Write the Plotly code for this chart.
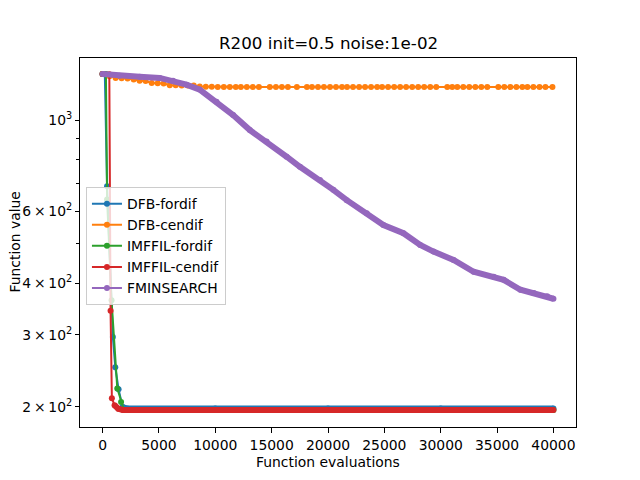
import plotly.graph_objects as go

# values
title = "R200 init=0.5 noise:1e-02"
x_label = "Function evaluations"
y_label = "Function value"

blue_x = [1, 201, 402, 916, 1129, 1422, 1778, 2200, 10000, 20000, 30000, 40000]
blue_y = [1295, 1294, 690, 296, 250, 221, 200, 198.3, 198.3, 198.3, 198.3, 198.3]

orange_x = [1, 620, 1160, 1690, 2220, 2760, 3290, 3820, 4360, 4890,
            5420, 5960, 6490, 7020, 7560, 8090, 8620, 9160, 9690, 10220,
            10760, 11290, 11820, 12270, 12800, 13330, 13870, 14840, 15380, 15910,
            16440, 17240, 18130, 18580, 19110, 19640, 20180, 20710, 21240, 21690,
            22220, 22760, 23290, 23820, 24360, 24800, 25330, 25870, 26400, 26930,
            27470, 28000, 28530, 29070, 29600, 30580, 31020, 31470, 32000, 32530,
            33070, 33600, 34130, 35110, 35640, 36180, 36710, 37240, 37690, 38220,
            38760, 39290, 39910]
orange_y = [1295, 1278, 1266, 1263, 1262, 1255, 1246, 1244, 1230, 1229,
            1228, 1216, 1215, 1214, 1214, 1213, 1206, 1205, 1205, 1204,
            1203, 1203, 1203, 1203, 1203, 1203, 1203, 1203, 1203, 1203,
            1203, 1203, 1203, 1203, 1203, 1203, 1203, 1203, 1203, 1203,
            1203, 1203, 1203, 1203, 1203, 1203, 1203, 1203, 1203, 1203,
            1203, 1203, 1203, 1203, 1203, 1203, 1203, 1203, 1203, 1203,
            1203, 1203, 1203, 1203, 1203, 1203, 1203, 1203, 1203, 1203,
            1203, 1203, 1203]

green_x = [1, 301, 402, 800, 1307, 1644, 1900, 10000, 20000, 30000, 40000]
green_y = [1295, 1294, 640, 364, 222, 205.7, 196.7, 196.7, 196.7, 196.7, 196.7]

red_x = [1, 601, 711, 827, 1067, 1400, 1800, 10000, 20000, 30000, 40000]
red_y = [1295, 1293, 343, 210, 202, 198, 196.7, 196.7, 196.7, 196.7, 196.7]

purple_x = [1, 1511, 3289, 5067, 6249, 7440, 8622, 10107, 11582, 13067,
            14551, 16329, 17511, 19289, 20471, 21662, 23440, 24916, 26693, 28178,
            29360, 31138, 32916, 34693, 35582, 37067, 38249, 39440, 40000]
purple_y = [1295, 1282, 1275, 1266, 1247, 1219, 1186, 1108, 1028, 945,
            886, 814, 769, 714, 676, 638, 593, 555, 530, 496,
            478, 456, 427, 415, 408, 386, 379, 372, 367]

y_tick_vals = [200, 300, 400, 600, 1000]
y_tick_text = ["2\u2009×\u200910<sup>2</sup>", "3\u2009×\u200910<sup>2</sup>",
               "4\u2009×\u200910<sup>2</sup>", "6\u2009×\u200910<sup>2</sup>",
               "10<sup>3</sup>"]
y_minor_vals = [500, 700, 800, 900]

# name, x, y, colour, index where the dense plateau starts (drawn thick)
series = [
    ("DFB-fordif", blue_x, blue_y, "#1f77b4", 6),
    ("DFB-cendif", orange_x, orange_y, "#ff7f0e", None),
    ("IMFFIL-fordif", green_x, green_y, "#2ca02c", 6),
    ("IMFFIL-cendif", red_x, red_y, "#d62728", 4),
    ("FMINSEARCH", purple_x, purple_y, "#9467bd", 0),
]

fig = go.Figure()
for name, xs, ys, col, k in series:
    fig.add_trace(go.Scatter(x=xs, y=ys, name=name, legendgroup=name,
                             mode="lines+markers",
                             line=dict(color=col, width=2),
                             marker=dict(color=col, size=6)))
    if k is not None:
        # markers are so dense here that they merge into a thick band
        fig.add_trace(go.Scatter(x=xs[k:], y=ys[k:], legendgroup=name,
                                 showlegend=False, mode="lines",
                                 line=dict(color=col, width=6)))

fnt = dict(family="DejaVu Sans", size=13.9, color="black")

# the page body adds 8px around the figure, so the figure is 8px smaller
fig.update_layout(
    width=632, height=472,
    margin=dict(l=72, r=64, t=50, b=53),
    plot_bgcolor="white", paper_bgcolor="white",
    font=fnt,
    showlegend=True,
    legend=dict(x=0.012, y=0.65, xanchor="left", yanchor="top",
                bgcolor="rgba(255,255,255,0.8)", bordercolor="#cccccc",
                borderwidth=1, font=fnt, tracegroupgap=0),
    annotations=[
        dict(text=title, xref="paper", yref="paper", x=0.5, y=1.042,
             xanchor="center", yanchor="middle", showarrow=False,
             font=dict(family="DejaVu Sans", size=16.7, color="black")),
        dict(text=x_label, xref="paper", yref="paper", x=0.5, y=-0.095,
             xanchor="center", yanchor="middle", showarrow=False, font=fnt),
        dict(text=y_label, xref="paper", yref="paper", x=-0.133, y=0.5,
             xanchor="center", yanchor="middle", showarrow=False,
             textangle=-90, font=fnt),
    ],
)

fig.update_xaxes(range=[-2000, 42000], tick0=0, dtick=5000, tickformat="d",
                 showgrid=False, zeroline=False, showline=True, mirror=True,
                 linecolor="black", linewidth=1, ticks="outside", ticklen=5,
                 tickcolor="black", tickfont=fnt)
fig.update_yaxes(type="log", range=[2.2523, 3.151], tickmode="array",
                 tickvals=y_tick_vals, ticktext=y_tick_text,
                 showgrid=False, zeroline=False, showline=True, mirror=True,
                 linecolor="black", linewidth=1, ticks="outside", ticklen=4,
                 tickcolor="black", tickfont=fnt,
                 minor=dict(tickmode="array", tickvals=y_minor_vals, ticks="outside",
                            ticklen=3, tickcolor="black", showgrid=False))

fig.write_html("out.html")
